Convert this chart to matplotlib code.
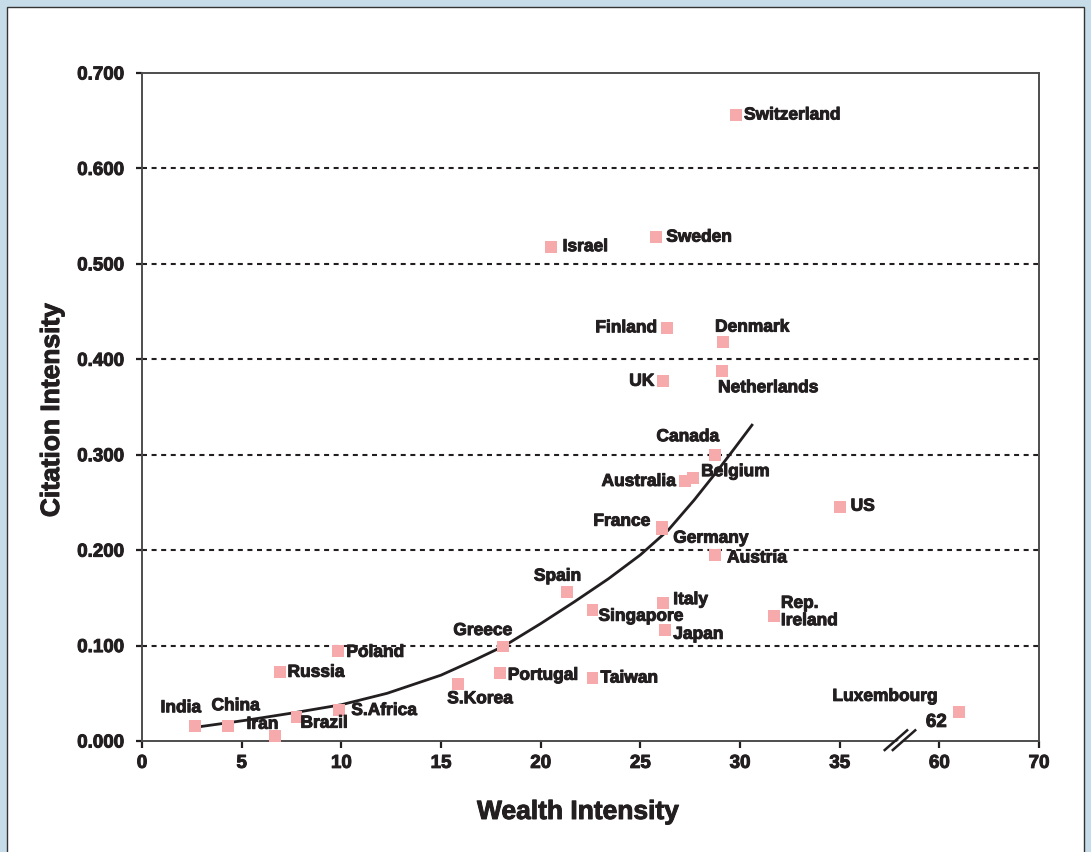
import matplotlib
matplotlib.use("Agg")
import matplotlib.pyplot as plt
import matplotlib.patheffects as pe
from matplotlib.patches import Rectangle, Polygon
from matplotlib.ticker import FixedLocator, FixedFormatter
import numpy as np

plt.rcParams['font.family'] = ['Liberation Sans', 'DejaVu Sans']
plt.rcParams['font.weight'] = 'bold'

INK = '#231f20'
PINK = '#f7aaac'
HEAVY = [pe.withStroke(linewidth=0.7, foreground=INK)]

# country data (wealth intensity, citation intensity)
countries = ["Switzerland", "Israel", "Sweden", "Finland", "Denmark", "Netherlands",
             "UK", "Canada", "Belgium", "Australia", "France", "Germany", "Austria",
             "US", "Spain", "Italy", "Singapore", "Japan", "Rep.\nIreland", "Greece",
             "Poland", "Russia", "Portugal", "Taiwan", "S.Korea", "S.Africa",
             "Brazil", "India", "China", "Iran", "Luxembourg"]
wealth = [29.8, 20.5, 25.8, 26.35, 29.15, 29.1,
          26.15, 28.75, 27.65, 27.25, 26.1, 26.1, 28.75,
          35.0, 21.3, 26.15, 22.6, 26.25, 31.7, 18.1,
          9.85, 6.9, 17.95, 22.6, 15.85, 9.9,
          7.75, 2.65, 4.3, 6.65, 62.0]
citation = [0.656, 0.518, 0.528, 0.433, 0.418, 0.388,
            0.377, 0.300, 0.276, 0.272, 0.224, 0.222, 0.195,
            0.245, 0.156, 0.145, 0.137, 0.116, 0.131, 0.099,
            0.094, 0.072, 0.071, 0.066, 0.060, 0.032,
            0.025, 0.016, 0.016, 0.005, 0.030]

# label offsets in pixels (dx, dy, horizontal alignment)
label_pos = {
    "Switzerland": (8, 0, 'left'), "Israel": (12, 0, 'left'), "Sweden": (10, 0, 'left'),
    "Finland": (-10, 0, 'right'), "Denmark": (-8, 15, 'left'),
    "Netherlands": (-4, -17, 'left'), "UK": (-9, 0, 'right'),
    "Canada": (4, 18, 'right'), "Belgium": (8, 6, 'left'),
    "Australia": (-9, 0, 'right'), "France": (-12, 6, 'right'),
    "Germany": (11, -9, 'left'), "Austria": (12, -3, 'left'), "US": (11, 1, 'left'),
    "Spain": (-9, 16, 'center'), "Italy": (10, 3, 'left'),
    "Singapore": (6, -6, 'left'), "Japan": (8, -4, 'left'),
    "Rep.\nIreland": (7, 4, 'left'), "Greece": (-20, 16, 'center'),
    "Poland": (8, -1, 'left'), "Russia": (8, 0, 'left'), "Portugal": (8, -2, 'left'),
    "Taiwan": (8, 0, 'left'), "S.Korea": (22, -15, 'center'),
    "S.Africa": (12, 0, 'left'), "Brazil": (4, -6, 'left'),
    "India": (-14, 18, 'center'), "China": (8, 20, 'center'),
    "Iran": (-28, 12, 'left'), "Luxembourg": (-74, 16, 'center'),
}

# fitted curve, points
curve_x = [2.9, 5.3, 7.6, 10.0, 12.3, 15.0, 16.7, 18.2, 20.0, 21.7, 23.4, 25.0, 26.4,
           27.7, 28.9, 29.7, 30.6]
curve_y = [0.015, 0.022, 0.0295, 0.038, 0.050, 0.069, 0.085, 0.100, 0.123, 0.146, 0.170,
           0.195, 0.221, 0.2525, 0.284, 0.306, 0.331]

x_ticks = [0, 5, 10, 15, 20, 25, 30, 35, 60, 70]
y_ticks = [0.0, 0.1, 0.2, 0.3, 0.4, 0.5, 0.6, 0.7]


# broken x axis: linear up to 38, squeezed 38..60, half scale above 60
def fwd(x):
    x = np.asarray(x, dtype=float)
    return np.where(x <= 38, x, np.where(x < 60, 38 + (x - 38) * 2 / 22, 40 + (x - 60) / 2))


def inv(d):
    d = np.asarray(d, dtype=float)
    return np.where(d <= 38, d, np.where(d < 40, 38 + (d - 38) * 11, 60 + (d - 40) * 2))


fig = plt.figure(figsize=(10.91, 8.52), dpi=100, facecolor='#c6dce8')
panel = Rectangle((7 / 1091, -0.01), 1077 / 1091, (845 / 852) + 0.01,
                  transform=fig.transFigure, facecolor='white',
                  edgecolor='#333333', lw=1.0, zorder=-10)
fig.add_artist(panel)

ax = fig.add_axes([142 / 1091, 1 - 741 / 852, 897 / 1091, 668 / 852])
ax.set_zorder(1)
ax.set_facecolor('none')
ax.set_xscale('function', functions=(fwd, inv))
ax.set_xlim(0, 70)
ax.set_ylim(0, 0.7)

for s in ax.spines.values():
    s.set_color('#4d4d4d')
    s.set_linewidth(1.4)

for yv in y_ticks[1:-1]:
    ax.axhline(yv, color=INK, lw=1.5, linestyle=(0, (2.4, 2.2)), zorder=1)

ax.xaxis.set_major_locator(FixedLocator(x_ticks))
ax.xaxis.set_major_formatter(FixedFormatter([str(t) for t in x_ticks]))
ax.xaxis.set_minor_locator(FixedLocator([]))
ax.set_yticks(y_ticks)
ax.set_yticklabels([f"{t:.3f}" for t in y_ticks])
ax.tick_params(axis='x', direction='out', length=5, width=1.6, color=INK,
               labelsize=13.5, labelcolor=INK, pad=5)
ax.tick_params(axis='y', direction='out', length=4, width=1.6, color=INK,
               labelsize=13.5, labelcolor=INK, pad=9)
for lab in ax.get_xticklabels() + ax.get_yticklabels():
    lab.set_fontweight('bold')
    lab.set_path_effects(HEAVY)

ax.plot(curve_x, curve_y, color=INK, lw=2.0, zorder=2, solid_joinstyle='round')
ax.scatter(wealth, citation, marker='s', s=74, color=PINK, edgecolors='none', zorder=3,
           clip_on=False)

for name, wx, cy in zip(countries, wealth, citation):
    dx, dy, ha = label_pos[name]
    ax.annotate(name, (wx, cy), xytext=(dx, dy), textcoords='offset pixels',
                ha=ha, va='center', fontsize=12.5, fontweight='bold', color=INK,
                linespacing=1.2, zorder=4, path_effects=HEAVY)

# the "62" value marker for Luxembourg at the break
ax.annotate(f"{wealth[-1]:g}", (wealth[-1], citation[-1]), xytext=(-23, -10),
            textcoords='offset pixels', ha='center', va='center', fontsize=13.5,
            fontweight='bold', color=INK, zorder=4, path_effects=HEAVY)

# axis break slashes
gap = Polygon([(0.832, -0.012), (0.855, 0.014), (0.859, 0.014), (0.836, -0.012)],
              closed=True, transform=ax.transAxes, facecolor='white', edgecolor='none',
              clip_on=False, zorder=5)
ax.add_patch(gap)
for x0 in (0.828, 0.837):
    ax.plot([x0, x0 + 0.025], [-0.0135, 0.016], transform=ax.transAxes, color=INK,
            lw=1.8, clip_on=False, zorder=6)

fig.text(578 / 1091, 1 - 812 / 852, "Wealth Intensity", ha='center', va='center',
         fontsize=19, fontweight='bold', color=INK, path_effects=HEAVY)
fig.text(52 / 1091, 1 - 410 / 852, "Citation Intensity", ha='center', va='center',
         rotation=90, fontsize=19, fontweight='bold', color=INK, path_effects=HEAVY)

fig.savefig("out.png", dpi=100, facecolor=fig.get_facecolor())
